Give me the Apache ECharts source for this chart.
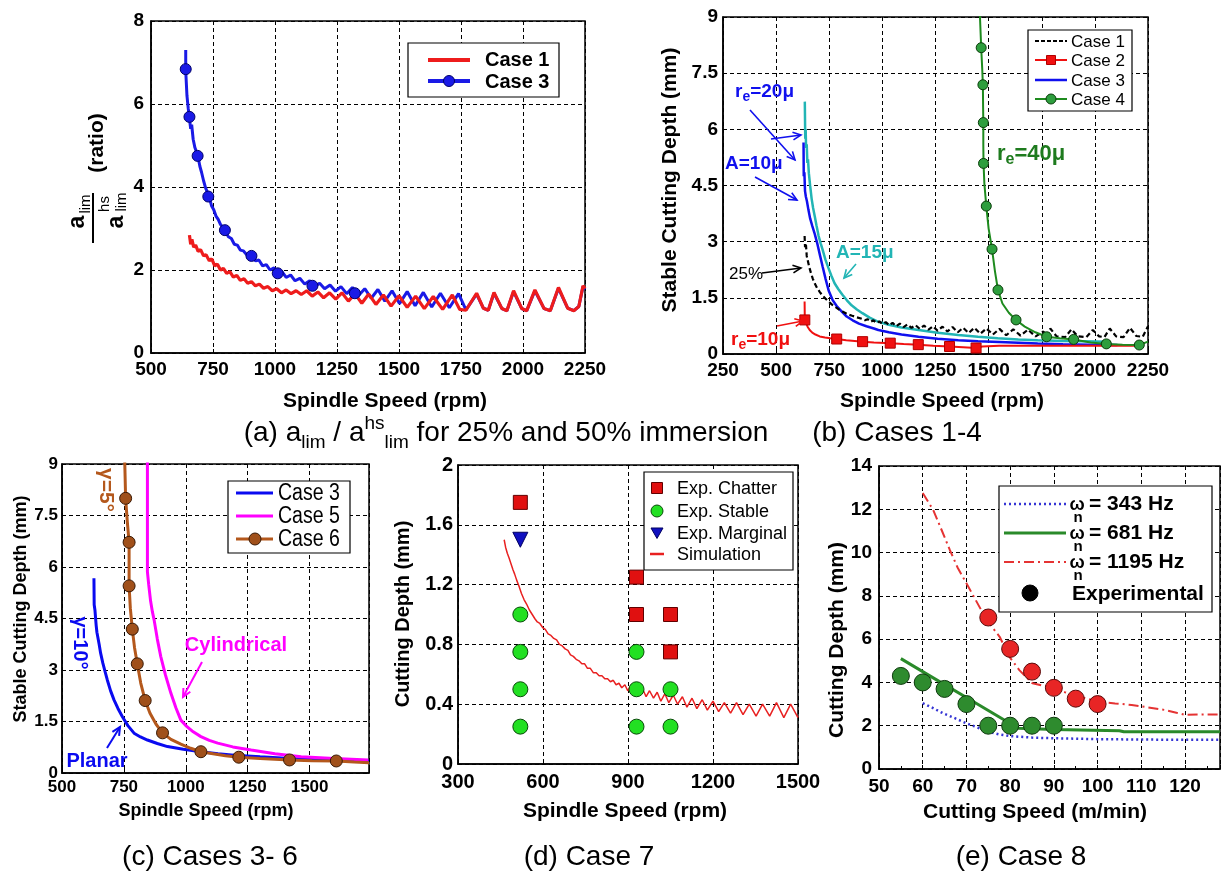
<!DOCTYPE html>
<html><head><meta charset="utf-8">
<script src="https://cdn.jsdelivr.net/npm/echarts@6/dist/echarts.min.js"></script>
<style>html,body{margin:0;padding:0;background:#fff}#c{width:1223px;height:872px}</style>
</head><body><div id="c"></div><script>
// ---------------- DATA ----------------
// (a) ratio a_lim / a_lim^hs
const aX = {min:500, max:2250, interval:250};
const aY = {min:0, max:8, interval:2};
const aCase1 = [[655,2.84],[660,2.62],[665,2.74],[672,2.55],[680,2.6],[690,2.45],[700,2.49],[712,2.34],[722,2.37],[735,2.22],[745,2.27],[757,2.1],[768,2.14],[780,2.0],[792,2.04],[805,1.92],[818,1.96],[832,1.83],[846,1.87],[860,1.75],[875,1.79],[890,1.68],[905,1.72],[921,1.62],[937,1.66],[954,1.56],[971,1.6],[989,1.5],[1007,1.55],[1026,1.45],[1045,1.52],[1065,1.43],[1085,1.5],[1106,1.41],[1128,1.5],[1150,1.37],[1173,1.47],[1196,1.33],[1220,1.45],[1245,1.3],[1270,1.45],[1296,1.25],[1322,1.43],[1350,1.2],[1378,1.42],[1407,1.17],[1437,1.4],[1468,1.13],[1500,1.38],[1533,1.1],[1567,1.37],[1602,1.07],[1638,1.36],[1676,1.05],[1715,1.4],[1745,1.05],[1770,1.03],[1813,1.44],[1840,1.08],[1860,1.03],[1883,1.46],[1915,1.07],[1935,1.02],[1962,1.5],[1995,1.07],[2015,1.02],[2048,1.52],[2085,1.07],[2110,1.02],[2143,1.58],[2180,1.08],[2205,1.02],[2225,1.12],[2242,1.62],[2250,1.55]];
const aCase3 = [[640,7.3],[640,6.8],[645,6.2],[650,5.9],[655,5.65],[660,5.4],[664,5.5],[670,5.15],[677,4.95],[683,4.85],[690,4.72],[697,4.5],[704,4.35],[712,4.15],[720,3.98],[727,3.88],[735,3.75],[744,3.55],[753,3.45],[762,3.3],[771,3.22],[780,3.1],[790,3.02],[800,2.95],[812,2.8],[824,2.76],[836,2.62],[848,2.6],[860,2.48],[873,2.46],[886,2.37],[898,2.38],[910,2.28],[922,2.22],[935,2.24],[950,2.1],[965,2.13],[980,2.0],[996,2.05],[1011,1.92],[1028,1.96],[1045,1.82],[1063,1.88],[1081,1.74],[1100,1.8],[1120,1.66],[1140,1.74],[1160,1.6],[1180,1.68],[1200,1.55],[1222,1.64],[1244,1.49],[1266,1.6],[1289,1.43],[1312,1.58],[1336,1.38],[1362,1.55],[1388,1.32],[1415,1.53],[1443,1.25],[1472,1.5],[1502,1.19],[1533,1.48],[1565,1.14],[1598,1.46],[1632,1.11],[1667,1.44],[1703,1.09],[1740,1.43],[1770,1.04],[1813,1.42],[1840,1.08],[1860,1.03],[1883,1.44],[1915,1.07],[1935,1.02],[1962,1.48],[1995,1.07],[2015,1.02],[2048,1.5],[2085,1.07],[2110,1.02],[2143,1.56],[2180,1.08],[2205,1.02],[2225,1.12],[2242,1.6],[2250,1.53]];
const aCase3Marks = [[640,6.84],[655,5.69],[688,4.75],[731,3.77],[798,2.96],[905,2.34],[1011,1.92],[1151,1.62],[1322,1.44]];

// (b) Cases 1-4
const bX = {min:250, max:2250, interval:250};
const bY = {min:0, max:9, interval:1.5};
const bCase1 = [[634,3.15],[636,2.85],[640,2.95],[644,2.62],[650,2.47],[656,2.32],[664,2.16],[672,2.02],[682,1.88],[693,1.76],[705,1.66],[718,1.56],[732,1.48],[747,1.4],[763,1.32],[780,1.25],[798,1.18],[817,1.12],[837,1.06],[858,1.02],[880,0.98],[903,0.94],[918,0.9],[930,0.93],[945,0.86],[958,0.9],[972,0.83],[986,0.87],[1001,0.8],[1016,0.85],[1032,0.77],[1048,0.83],[1065,0.74],[1082,0.81],[1100,0.72],[1118,0.79],[1137,0.7],[1156,0.77],[1176,0.67],[1196,0.76],[1217,0.65],[1238,0.74],[1260,0.62],[1283,0.73],[1306,0.6],[1330,0.72],[1355,0.58],[1380,0.7],[1406,0.56],[1433,0.7],[1461,0.54],[1490,0.68],[1520,0.52],[1551,0.67],[1583,0.5],[1616,0.66],[1650,0.49],[1685,0.65],[1721,0.47],[1758,0.6],[1775,0.46],[1790,0.68],[1820,0.47],[1860,0.45],[1890,0.66],[1920,0.47],[1960,0.45],[1990,0.64],[2020,0.47],[2045,0.45],[2070,0.68],[2100,0.47],[2135,0.45],[2165,0.7],[2195,0.48],[2225,0.46],[2250,0.74]];
const bCase2 = [[634,1.4],[635,0.91],[640,0.84],[648,0.73],[658,0.64],[670,0.57],[685,0.52],[705,0.47],[730,0.44],[755,0.42],[785,0.4],[830,0.37],[870,0.35],[907,0.33],[960,0.31],[1037,0.29],[1100,0.27],[1169,0.25],[1240,0.22],[1316,0.2],[1380,0.18],[1441,0.16],[1470,0.2],[1550,0.22],[1650,0.22],[1800,0.22],[1950,0.22],[2100,0.22],[2200,0.22]];
const bCase2Marks = [[635,0.91],[785,0.4],[907,0.33],[1037,0.29],[1169,0.25],[1316,0.2],[1441,0.16]];
const bCase3 = [[629,5.65],[630,4.75],[633,4.85],[636,4.35],[640,4.2],[645,4.08],[652,3.85],[660,3.62],[670,3.42],[682,3.2],[695,2.92],[707,2.62],[719,2.33],[733,2.0],[748,1.68],[766,1.44],[785,1.28],[808,1.14],[832,1.0],[860,0.9],[890,0.81],[925,0.74],[960,0.68],[981,0.64],[1030,0.58],[1090,0.52],[1170,0.46],[1260,0.41],[1357,0.37],[1450,0.34],[1550,0.32],[1640,0.3],[1731,0.28],[1850,0.26],[1980,0.25],[2106,0.24]];
const bCase3A15 = [[635,6.74],[637,5.75],[639,6.0],[641,5.5],[644,5.6],[647,5.1],[650,5.2],[654,4.83],[660,4.5],[667,4.15],[674,3.9],[682,3.67],[690,3.43],[700,3.15],[710,2.95],[719,2.78],[732,2.52],[746,2.3],[760,2.09],[775,1.89],[793,1.73],[812,1.58],[832,1.44],[855,1.3],[880,1.19],[906,1.09],[940,0.97],[981,0.86],[1030,0.78],[1090,0.71],[1170,0.64],[1260,0.57],[1357,0.51],[1450,0.46],[1543,0.42],[1640,0.39],[1731,0.37],[1850,0.35],[1950,0.34],[2050,0.33]];
const bCase4 = [[1456,9.6],[1460,8.9],[1465,8.18],[1470,7.6],[1473,7.19],[1474,6.6],[1475,6.18],[1475,5.6],[1476,5.09],[1480,4.55],[1489,3.95],[1500,3.35],[1516,2.8],[1530,2.2],[1544,1.71],[1565,1.35],[1595,1.1],[1629,0.91],[1670,0.73],[1720,0.58],[1773,0.46],[1835,0.42],[1900,0.39],[1980,0.31],[2054,0.27],[2130,0.25],[2209,0.24],[2250,0.33]];
const bCase4Marks = [[1465,8.18],[1473,7.19],[1475,6.18],[1476,5.09],[1489,3.95],[1516,2.8],[1544,1.71],[1629,0.91],[1773,0.46],[1900,0.39],[2054,0.27],[2209,0.24]];

// (c) Cases 3-6
const cX = {min:500, max:1740, interval:250};
const cY = {min:0, max:9, interval:1.5};
const cCase3 = [[629,5.67],[630,4.9],[633,4.75],[636,4.75],[638,4.3],[641,4.1],[645,4.07],[650,3.75],[656,3.49],[665,3.2],[674,2.95],[683,2.71],[696,2.4],[710,2.13],[726,1.88],[744,1.64],[766,1.38],[791,1.16],[817,1.05],[845,0.96],[885,0.86],[926,0.77],[990,0.69],[1061,0.62],[1130,0.56],[1196,0.52],[1300,0.47],[1420,0.42],[1550,0.38],[1650,0.36],[1740,0.34]];
const cCase5 = [[845,9.5],[845,5.86],[850,5.5],[858,5.0],[865,4.7],[872,4.46],[885,3.9],[899,3.39],[918,2.85],[940,2.32],[960,1.9],[980,1.54],[1000,1.38],[1030,1.2],[1061,1.06],[1095,0.95],[1129,0.87],[1190,0.76],[1264,0.67],[1360,0.56],[1466,0.47],[1600,0.42],[1737,0.38]];
const cCase6 = [[752,9.5],[755,8.6],[757,8.0],[764,7.3],[771,6.72],[771,6.1],[771,5.45],[776,4.8],[784,4.19],[793,3.65],[804,3.18],[818,2.62],[836,2.11],[855,1.75],[880,1.42],[906,1.17],[940,0.98],[980,0.84],[1020,0.72],[1061,0.62],[1110,0.56],[1160,0.5],[1214,0.46],[1300,0.42],[1419,0.38],[1510,0.36],[1608,0.35],[1680,0.32],[1740,0.3]];
const cCase6Marks = [[757,8.0],[771,6.72],[771,5.45],[784,4.19],[804,3.18],[836,2.11],[906,1.17],[1061,0.62],[1214,0.46],[1419,0.38],[1608,0.35]];

// (d) Case 7
const dX = {min:300, max:1500, interval:300};
const dY = {min:0, max:2, interval:0.4};
const dChatter = [[520,1.75],[930,1.25],[930,1.0],[1050,1.0],[1050,0.75]];
const dStable = [[520,1.0],[520,0.75],[520,0.5],[520,0.25],[930,0.75],[930,0.5],[930,0.25],[1050,0.5],[1050,0.25]];
const dMarginal = [[520,1.5]];
const dSim = [[463,1.5],[468,1.45],[474,1.41],[480,1.38],[487,1.34],[494,1.3],[500,1.27],[507,1.23],[515,1.19],[524,1.14],[533,1.1],[542,1.07],[552,1.03],[562,1.0],[572,0.97],[580,0.95],[589,0.94],[600,0.91],[608,0.9],[618,0.87],[628,0.86],[638,0.84],[648,0.83],[658,0.8],[668,0.79],[678,0.77],[688,0.76],[697,0.73],[707,0.72],[717,0.7],[727,0.69],[737,0.67],[747,0.67],[757,0.64],[767,0.64],[778,0.61],[788,0.61],[798,0.59],[808,0.59],[818,0.57],[828,0.57],[838,0.55],[848,0.56],[858,0.53],[868,0.54],[878,0.51],[889,0.53],[899,0.49],[909,0.52],[919,0.48],[930,0.51],[940,0.46],[952,0.5],[964,0.45],[976,0.49],[990,0.44],[1003,0.48],[1016,0.42],[1030,0.47],[1044,0.41],[1060,0.46],[1075,0.4],[1092,0.45],[1108,0.38],[1126,0.44],[1143,0.37],[1162,0.43],[1180,0.36],[1200,0.42],[1220,0.35],[1240,0.41],[1262,0.34],[1283,0.41],[1306,0.33],[1328,0.4],[1352,0.32],[1375,0.4],[1400,0.32],[1424,0.41],[1450,0.31],[1474,0.4],[1500,0.31]];

// (e) Case 8
const eX = {min:50, max:128, interval:10};
const eY = {min:0, max:14, interval:2};
const eW343 = [[60,3.04],[62,2.85],[64.7,2.57],[67,2.38],[70,2.11],[72.5,1.92],[75,1.72],[77.5,1.6],[80,1.52],[85,1.45],[90,1.42],[100,1.38],[110,1.36],[120,1.35],[128,1.35]];
const eW681 = [[55,5.1],[60,4.5],[65,3.9],[70,3.3],[75,2.7],[80,2.1],[82,1.88],[90,1.83],[105,1.77],[106,1.72],[128,1.72]];
const eW1195 = [[60,12.75],[62.4,11.97],[64,11.2],[66.2,10.12],[68,9.3],[70,8.58],[72,7.85],[73.8,7.19],[75.7,6.6],[77.6,6.11],[79.8,5.19],[82.1,4.57],[85.1,3.96],[87.5,3.85],[90,3.75],[92.5,3.55],[94.9,3.42],[97.5,3.25],[100.2,3.11],[104,3.03],[107.8,2.96],[111.5,2.85],[115.3,2.73],[118,2.6],[120,2.5],[124,2.52],[128,2.52]];
const eExpRed = [[75,7.0],[80,5.55],[85,4.5],[90,3.75],[95,3.25],[100,3.0]];
const eExpGreen = [[55,4.3],[60,4.0],[65,3.7],[70,3.0],[75,2.0],[80,2.0],[85,2.0],[90,2.0]];

// ---------------- STYLE / LAYOUT ----------------
const ARIAL = 'Arial, "Liberation Sans", sans-serif';
const NX = 0.85; // horizontal squeeze for the narrow-looking legend texts
const grids = [
  {left:151, top:21, width:434, height:332},
  {left:723, top:17, width:425, height:337},
  {left:62, top:464, width:307, height:309},
  {left:458, top:465, width:340, height:299},
  {left:879, top:466, width:342, height:303}
].map(g => Object.assign({show:true, borderColor:'#000', borderWidth:1.5, backgroundColor:'#fff'}, g));

function axis(gi, rng, lab, extra) {
  const iv = rng.interval;
  return Object.assign({
    type:'value', gridIndex:gi, min:rng.min, max:rng.max, interval:iv,
    axisLine:{show:true, onZero:false, lineStyle:{color:'#000', width:1.5}},
    axisTick:{show:true, inside:true, length:4, lineStyle:{color:'#000', width:1}},
    axisLabel:{color:'#000', fontWeight:'bold', fontSize:lab.size, fontFamily:ARIAL, margin:lab.margin,
      formatter: v => (Math.abs(v/iv - Math.round(v/iv)) < 1e-6 ? String(+v.toFixed(4)) : '')},
    splitLine:{show:true, lineStyle:{color:'#000', type:[4,3], width:1}}
  }, extra || {});
}
const xAxes = [
  axis(0, aX, {size:19, margin:7}),
  axis(1, bX, {size:19, margin:7}),
  axis(2, cX, {size:17, margin:6}),
  axis(3, dX, {size:20, margin:8}),
  axis(4, eX, {size:19, margin:8}, {minorTick:{show:true, splitNumber:2, length:3, lineStyle:{color:'#000'}}})
];
const yAxes = [
  axis(0, aY, {size:19, margin:7}),
  axis(1, bY, {size:19, margin:5}),
  axis(2, cY, {size:17, margin:4}),
  axis(3, dY, {size:20, margin:5}),
  axis(4, eY, {size:19, margin:7})
];

function line(gi, name, data, color, width, dash, z) {
  return {type:'line', name, xAxisIndex:gi, yAxisIndex:gi, data, showSymbol:false, symbol:'none',
    clip:true, z:z||2, lineStyle:{color, width, type:dash||'solid'}, itemStyle:{color}, emphasis:{disabled:true}};
}
function marks(gi, name, data, symbol, size, fill, border, z, rot) {
  return {type:'scatter', name, xAxisIndex:gi, yAxisIndex:gi, data, symbol, symbolSize:size, symbolRotate:rot||0,
    z:z||5, itemStyle:{color:fill, borderColor:border, borderWidth:1, opacity:1}, emphasis:{disabled:true}};
}

const series = [
  // (a)
  line(0,'a Case 3', aCase3, '#1A1AE6', 3),
  line(0,'a Case 1', aCase1, '#EE1C1C', 3.2, 'solid', 3),
  marks(0,'a Case 3 marks', aCase3Marks, 'circle', 11, '#1A1AE6', '#00006A'),
  // (b)
  line(1,'b Case 3 A15', bCase3A15, '#22B5B5', 2.5),
  line(1,'b Case 3', bCase3, '#1010EE', 2.5),
  line(1,'b Case 1', bCase1, '#000', 2.2, [5,3]),
  line(1,'b Case 2', bCase2, '#F01010', 2),
  line(1,'b Case 4', bCase4, '#1E8B1E', 2, 'solid', 3),
  marks(1,'b Case 2 marks', bCase2Marks, 'rect', 10, '#F01010', '#B00000'),
  marks(1,'b Case 4 marks', bCase4Marks, 'circle', 10, '#2E9E3E', '#0B3D0B'),
  // (c)
  line(2,'c Case 3', cCase3, '#0A0AF0', 3),
  line(2,'c Case 5', cCase5, '#FF00FF', 3),
  line(2,'c Case 6', cCase6, '#B4581C', 3, 'solid', 3),
  marks(2,'c Case 6 marks', cCase6Marks, 'circle', 12, '#A0501A', '#3A1A05'),
  // (d)
  line(3,'d Simulation', dSim, '#E82020', 1.5),
  marks(3,'d Exp. Chatter', dChatter, 'rect', 14, '#E01010', '#600000'),
  marks(3,'d Exp. Stable', dStable, 'circle', 15, '#22E022', '#0A4A0A'),
  marks(3,'d Exp. Marginal', dMarginal, 'triangle', 15, '#1010C0', '#000060', 5, 180),
  // (e)
  line(4,'e 343', eW343, '#3434D4', 2.5, [2,3]),
  line(4,'e 681', eW681, '#2A8A2A', 3),
  line(4,'e 1195', eW1195, '#E53333', 2, [10,4,2,4]),
  marks(4,'e Exp red', eExpRed, 'circle', 17, '#E82525', '#5A0A0A'),
  marks(4,'e Exp green', eExpGreen, 'circle', 17, '#2E8B2E', '#0E3A0E')
];

// ---------------- GRAPHICS (legends, titles, annotations) ----------------
const G = [];
function T(x, y, text, font, color, align, rot, sx) {
  G.push({type:'text', z:100, x, y, rotation:rot||0, scaleX:sx||1,
    style:{text, font, fill:color||'#000', align:align||'center', verticalAlign:'middle',
      textAlign:align||'center', textVerticalAlign:'middle'}});
}
function L(x1,y1,x2,y2,color,w,dash){ G.push({type:'line', z:100, shape:{x1,y1,x2,y2}, style:{stroke:color, lineWidth:w, lineDash:dash||null}}); }
function R(x,y,w,h){ G.push({type:'rect', z:99, shape:{x,y,width:w,height:h}, style:{fill:'#fff', stroke:'#000', lineWidth:1.2}}); }
function C(cx,cy,r,fill,stroke){ G.push({type:'circle', z:101, shape:{cx,cy,r}, style:{fill, stroke, lineWidth:1}}); }
function SQ(cx,cy,s,fill,stroke){ G.push({type:'rect', z:101, shape:{x:cx-s/2,y:cy-s/2,width:s,height:s}, style:{fill, stroke, lineWidth:1}}); }
function TRI(cx,cy,s,fill){ G.push({type:'polygon', z:101, shape:{points:[[cx-s/2,cy-s/2.4],[cx+s/2,cy-s/2.4],[cx,cy+s/2.2]]}, style:{fill, stroke:'#000060', lineWidth:1}}); }
function A(x1,y1,x2,y2,color,w){
  const ang = Math.atan2(y2-y1, x2-x1), Lh = 9, Ah = 0.45;
  L(x1,y1,x2,y2,color,w||1.6);
  G.push({type:'polyline', z:100, shape:{points:[[x2-Lh*Math.cos(ang-Ah), y2-Lh*Math.sin(ang-Ah)],[x2,y2],[x2-Lh*Math.cos(ang+Ah), y2-Lh*Math.sin(ang+Ah)]]},
    style:{stroke:color, lineWidth:w||1.6, fill:null}});
}
function RT(x, y, text, rich, align, sx) {
  G.push({type:'text', z:100, x, y, scaleX:sx||1,
    style:{text, rich, align:align||'left', verticalAlign:'middle', textAlign:align||'left', textVerticalAlign:'middle'}});
}
function subLabel(x, y, base, sub, rest, color, size, align) {
  RT(x, y, '{m|'+base+'}{s|'+sub+'}{m|'+rest+'}', {
    m:{font:'bold '+size+'px '+ARIAL, fill:color, lineHeight:size+6},
    s:{font:'bold '+Math.round(size*0.72)+'px '+ARIAL, fill:color, lineHeight:Math.round(size*0.72), verticalAlign:'bottom'}
  }, align);
}
const CAP = '28px ' + ARIAL;

// (a) legend
R(408,43,151,54);
L(428,60,470,60,'#EE1C1C',4); T(485,60,'Case 1','bold 20px '+ARIAL,'#000','left');
L(428,81,470,81,'#1A1AE6',4); C(449,81,5.5,'#1A1AE6','#00006A'); T(485,82,'Case 3','bold 20px '+ARIAL,'#000','left');
// (a) axis titles
T(385,401,'Spindle Speed (rpm)','bold 21px '+ARIAL);
G.push({type:'group', x:93, y:218, rotation:Math.PI/2, z:100, children:[
  {type:'text', z:100, x:-4, y:-15, style:{text:'a', font:'bold 23px '+ARIAL, fill:'#000', align:'center', verticalAlign:'middle'}},
  {type:'text', z:100, x:14, y:-7, style:{text:'lim', font:'15px '+ARIAL, fill:'#000', align:'center', verticalAlign:'middle'}},
  {type:'line', z:100, shape:{x1:-25,y1:0,x2:25,y2:0}, style:{stroke:'#000', lineWidth:2}},
  {type:'text', z:100, x:-4, y:24, style:{text:'a', font:'bold 23px '+ARIAL, fill:'#000', align:'center', verticalAlign:'middle'}},
  {type:'text', z:100, x:14, y:12, style:{text:'hs', font:'15px '+ARIAL, fill:'#000', align:'center', verticalAlign:'middle'}},
  {type:'text', z:100, x:16, y:29, style:{text:'lim', font:'15px '+ARIAL, fill:'#000', align:'center', verticalAlign:'middle'}},
  {type:'text', z:100, x:75, y:4, style:{text:'(ratio)', font:'bold 21px '+ARIAL, fill:'#000', align:'center', verticalAlign:'middle'}}
]});
// (a) caption
RT(506, 433, '{m|(a) a}{s|lim}{m| / a}{p|hs}{s|lim}{m| for 25% and 50% immersion}', {
  m:{font:CAP, fill:'#000', lineHeight:38},
  s:{font:'19px '+ARIAL, fill:'#000', lineHeight:18, verticalAlign:'bottom'},
  p:{font:'19px '+ARIAL, fill:'#000', lineHeight:18, verticalAlign:'top'}
}, 'center');

// (b) legend
R(1028,30,104,81);
L(1035,41,1067,41,'#000',2,[4,2]); T(1071,42,'Case 1','17px '+ARIAL,'#000','left');
L(1035,60,1067,60,'#F01010',2); SQ(1051,60,9,'#F01010','#B00000'); T(1071,61,'Case 2','17px '+ARIAL,'#000','left');
L(1035,80,1067,80,'#1010EE',2.5); T(1071,81,'Case 3','17px '+ARIAL,'#000','left');
L(1035,99,1067,99,'#1E8B1E',2); C(1051,99,5,'#2E9E3E','#0B3D0B'); T(1071,100,'Case 4','17px '+ARIAL,'#000','left');
// (b) titles
T(942,401,'Spindle Speed (rpm)','bold 21px '+ARIAL);
T(670,180,'Stable Cutting Depth (mm)','bold 21px '+ARIAL,'#000','center',Math.PI/2);
T(897,433,'(b) Cases 1-4',CAP);
// (b) annotations
subLabel(735,92,'r','e','=20μ','#1010EE',19);
A(750,110,795,160,'#1010EE'); A(771,139,801,135,'#1010EE');
T(725,164,'A=10μ','bold 19px '+ARIAL,'#1010EE','left');
A(755,177,797,200,'#1010EE');
T(836,253,'A=15μ','bold 19px '+ARIAL,'#22B5B5','left');
A(856,264,844,278,'#22B5B5');
T(729,274,'25%','17px '+ARIAL,'#000','left');
A(762,273,801,268,'#000');
subLabel(731,340,'r','e','=10μ','#F01010',19);
A(777,326,803,321,'#F01010');
subLabel(997,154,'r','e','=40μ','#1E7B1E',22);

// (c) legend
R(228,481,122,72);
L(236,493,273,493,'#0A0AF0',3); T(278,494,'Case 3','23px '+ARIAL,'#000','left',0,NX);
L(236,516,273,516,'#FF00FF',3); T(278,517,'Case 5','23px '+ARIAL,'#000','left',0,NX);
L(236,539,273,539,'#B4581C',3); C(255,539,6,'#A0501A','#3A1A05'); T(278,540,'Case 6','23px '+ARIAL,'#000','left',0,NX);
// (c) titles
T(206,811,'Spindle Speed (rpm)','bold 18px '+ARIAL);
T(21,609,'Stable Cutting Depth (mm)','bold 18px '+ARIAL,'#000','center',Math.PI/2);
T(210,857,'(c) Cases 3- 6',CAP);
// (c) annotations
T(106,490,'γ=5°','bold 21px '+ARIAL,'#B4581C','center',-Math.PI/2);
T(80,643,'γ=10°','bold 20px '+ARIAL,'#0A0AF0','center',-Math.PI/2);
T(236,645,'Cylindrical','bold 20px '+ARIAL,'#FF00FF');
A(202,662,183,697,'#FF00FF',2);
T(97,761,'Planar','bold 20px '+ARIAL,'#0A0AF0');
A(107,748,120,727,'#0A0AF0',2);

// (d) legend
R(644,472,149,98);
SQ(657,488,11,'#E01010','#600000'); T(677,489,'Exp. Chatter','18px '+ARIAL,'#000','left');
C(657,511,6,'#22E022','#0A4A0A'); T(677,512,'Exp. Stable','18px '+ARIAL,'#000','left');
TRI(657,533,12,'#1010C0'); T(677,534,'Exp. Marginal','18px '+ARIAL,'#000','left');
L(650,554,664,554,'#E82020',2.5); T(677,555,'Simulation','18px '+ARIAL,'#000','left');
// (d) titles
T(625,811,'Spindle Speed (rpm)','bold 21px '+ARIAL);
T(403,614,'Cutting Depth (mm)','bold 20px '+ARIAL,'#000','center',Math.PI/2);
T(589,857,'(d) Case 7',CAP);

// (e) legend
R(999,486,213,126);
const eLeg = [[504,'= 343 Hz'],[533,'= 681 Hz'],[562,'= 1195 Hz']];
L(1004,504,1066,504,'#3434D4',2.5,[2,3]);
L(1004,533,1066,533,'#2A8A2A',3);
L(1004,562,1066,562,'#E53333',2,[10,4,2,4]);
eLeg.forEach(([y,t]) => {
  T(1077,y+1,'ω','bold 18px '+ARIAL,'#000','center');
  T(1078,y+14,'n','bold 15px '+ARIAL,'#000','center');
  T(1089,y,t,'bold 21px '+ARIAL,'#000','left');
});
C(1030,593,8,'#000','#000'); T(1072,594,'Experimental','bold 21px '+ARIAL,'#000','left');
// (e) titles
T(1035,812,'Cutting Speed (m/min)','bold 21px '+ARIAL);
T(837,640,'Cutting Depth (mm)','bold 21px '+ARIAL,'#000','center',Math.PI/2);
T(1021,857,'(e) Case 8',CAP);

const chart = echarts.init(document.getElementById('c'), null, {renderer:'canvas'});
chart.setOption({
  animation:false,
  backgroundColor:'#fff',
  grid:grids, xAxis:xAxes, yAxis:yAxes, series, graphic:G
});
</script></body></html>
